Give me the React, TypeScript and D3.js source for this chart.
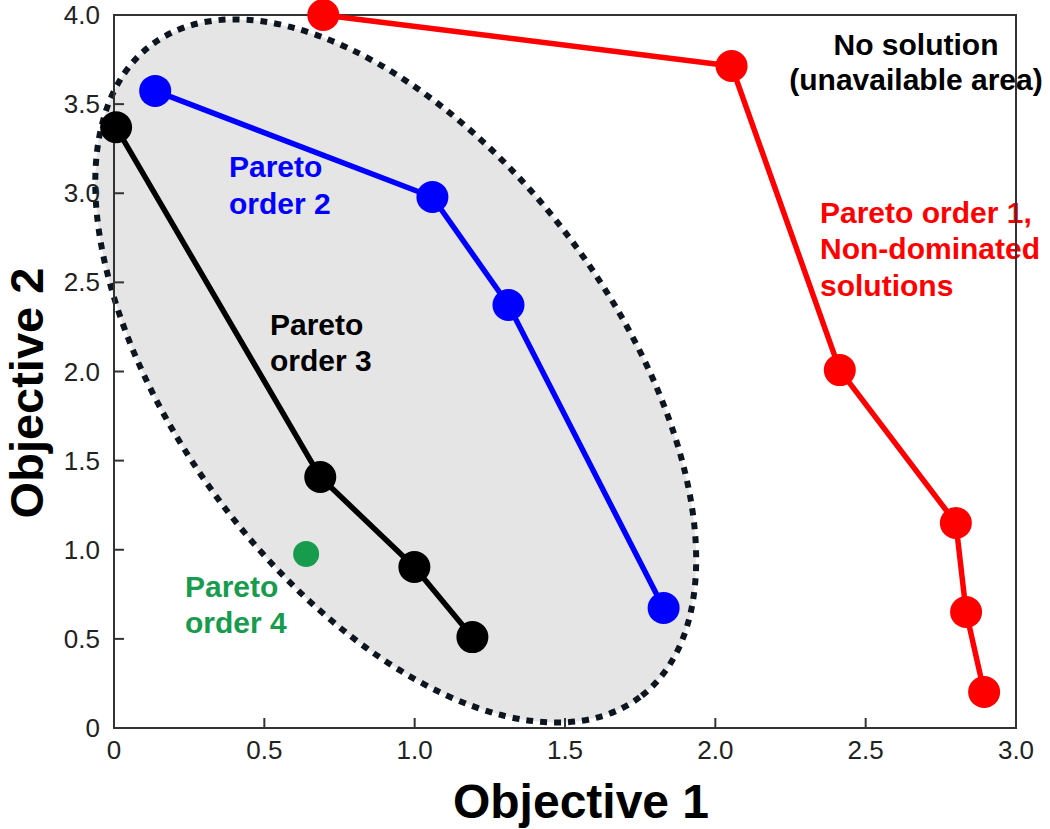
import React from "react";
import * as d3 from "d3";

type Pt = { x: number; y: number };

const order1: Pt[] = [
  { x: 0.696, y: 4.0 },
  { x: 2.054, y: 3.714 },
  { x: 2.414, y: 2.008 },
  { x: 2.8, y: 1.15 },
  { x: 2.834, y: 0.651 },
  { x: 2.894, y: 0.202 },
];
const order2: Pt[] = [
  { x: 0.137, y: 3.574 },
  { x: 1.059, y: 2.979 },
  { x: 1.312, y: 2.373 },
  { x: 1.828, y: 0.673 },
];
const order3: Pt[] = [
  { x: 0.007, y: 3.37 },
  { x: 0.686, y: 1.408 },
  { x: 0.999, y: 0.903 },
  { x: 1.192, y: 0.51 },
];
const order4: Pt[] = [{ x: 0.639, y: 0.976 }];

const xTicks = [0, 0.5, 1.0, 1.5, 2.0, 2.5, 3.0];
const yTicks = [0, 0.5, 1.0, 1.5, 2.0, 2.5, 3.0, 3.5, 4.0];
const fmt = (v: number) => (v === 0 ? "0" : v.toFixed(1));

// ellipse: center in data units, radii in x-data units, rotation in degrees
const ELLIPSE = { cx: 0.937, cy: 2.003, rx: 1.355, ry: 0.728, angle: 53.2 };

const W = 1050;
const H = 829;
const FONT = "'Liberation Sans', Arial, Helvetica, sans-serif";

export default function App() {
  const x = d3.scaleLinear().domain([0, 3]).range([114, 1016]);
  const y = d3.scaleLinear().domain([0, 4]).range([728, 15]);
  const unit = x(1) - x(0);

  const line = d3
    .line<Pt>()
    .x((d) => x(d.x))
    .y((d) => y(d.y));

  const ecx = x(ELLIPSE.cx);
  const ecy = y(ELLIPSE.cy);

  const series = [
    { data: order1, color: "#ff0000", r: 16, w: 5.5 },
    { data: order2, color: "#0000ff", r: 16, w: 5.5 },
    { data: order3, color: "#000000", r: 16, w: 5.5 },
  ];

  const labelStyle = { fontFamily: FONT, fontWeight: 700, fontSize: 30 } as const;

  return (
    <svg
      width={W}
      height={H}
      style={{ position: "absolute", left: 0, top: 0, background: "#fff" }}
    >
      {/* ellipse */}
      <ellipse
        cx={ecx}
        cy={ecy}
        rx={ELLIPSE.rx * unit}
        ry={ELLIPSE.ry * unit}
        transform={`rotate(${ELLIPSE.angle} ${ecx} ${ecy})`}
        fill="#e5e5e5"
        stroke="#0d1620"
        strokeWidth={6}
        strokeDasharray="7 7"
      />

      {/* annotations */}
      <g style={labelStyle}>
        <text x={916} y={55} textAnchor="middle" fill="#000">No solution</text>
        <text x={916} y={90} textAnchor="middle" fill="#000">(unavailable area)</text>
        <text x={820} y={223} fill="#ff0000">Pareto order 1,</text>
        <text x={820} y={259} fill="#ff0000">Non-dominated</text>
        <text x={820} y={296} fill="#ff0000">solutions</text>
        <text x={229} y={177} fill="#0000ff">Pareto</text>
        <text x={229} y={214} fill="#0000ff">order 2</text>
        <text x={270} y={335} fill="#000">Pareto</text>
        <text x={270} y={371} fill="#000">order 3</text>
        <text x={185} y={597} fill="#169c4c">Pareto</text>
        <text x={185} y={633} fill="#169c4c">order 4</text>
      </g>

      {/* frame */}
      <rect
        x={x(0)}
        y={y(4)}
        width={x(3) - x(0)}
        height={y(0) - y(4)}
        fill="none"
        stroke="#333"
        strokeWidth={2}
      />
      {/* ticks */}
      {xTicks.slice(1, -1).map((t) => (
        <line key={"xt" + t} x1={x(t)} x2={x(t)} y1={y(0)} y2={y(0) - 10} stroke="#333" strokeWidth={2} />
      ))}
      {yTicks.slice(1, -1).map((t) => (
        <line key={"yt" + t} x1={x(0)} x2={x(0) + 10} y1={y(t)} y2={y(t)} stroke="#333" strokeWidth={2} />
      ))}
      {/* tick labels */}
      <g style={{ fontFamily: FONT, fontSize: 26 }} fill="#222">
        {xTicks.map((t) => (
          <text key={"xl" + t} x={x(t)} y={y(0) + 31} textAnchor="middle">
            {fmt(t)}
          </text>
        ))}
        {yTicks.map((t) => (
          <text key={"yl" + t} x={x(0) - 14} y={y(t) + 9} textAnchor="end">
            {fmt(t)}
          </text>
        ))}
      </g>

      {/* axis titles */}
      <text
        x={581}
        y={818}
        textAnchor="middle"
        style={{ fontFamily: FONT, fontWeight: 700, fontSize: 48 }}
        fill="#000"
      >
        Objective 1
      </text>
      <text
        transform={`translate(43, 393) rotate(-90)`}
        textAnchor="middle"
        style={{ fontFamily: FONT, fontWeight: 700, fontSize: 47 }}
        fill="#000"
      >
        Objective 2
      </text>

      {/* series */}
      {series.map((s, i) => (
        <g key={"s" + i}>
          <path d={line(s.data) || ""} fill="none" stroke={s.color} strokeWidth={s.w} strokeLinejoin="round" />
          {s.data.map((d, j) => (
            <circle key={j} cx={x(d.x)} cy={y(d.y)} r={s.r} fill={s.color} />
          ))}
        </g>
      ))}
      {order4.map((d, j) => (
        <circle key={"g" + j} cx={x(d.x)} cy={y(d.y)} r={13} fill="#169c4c" />
      ))}
    </svg>
  );
}
